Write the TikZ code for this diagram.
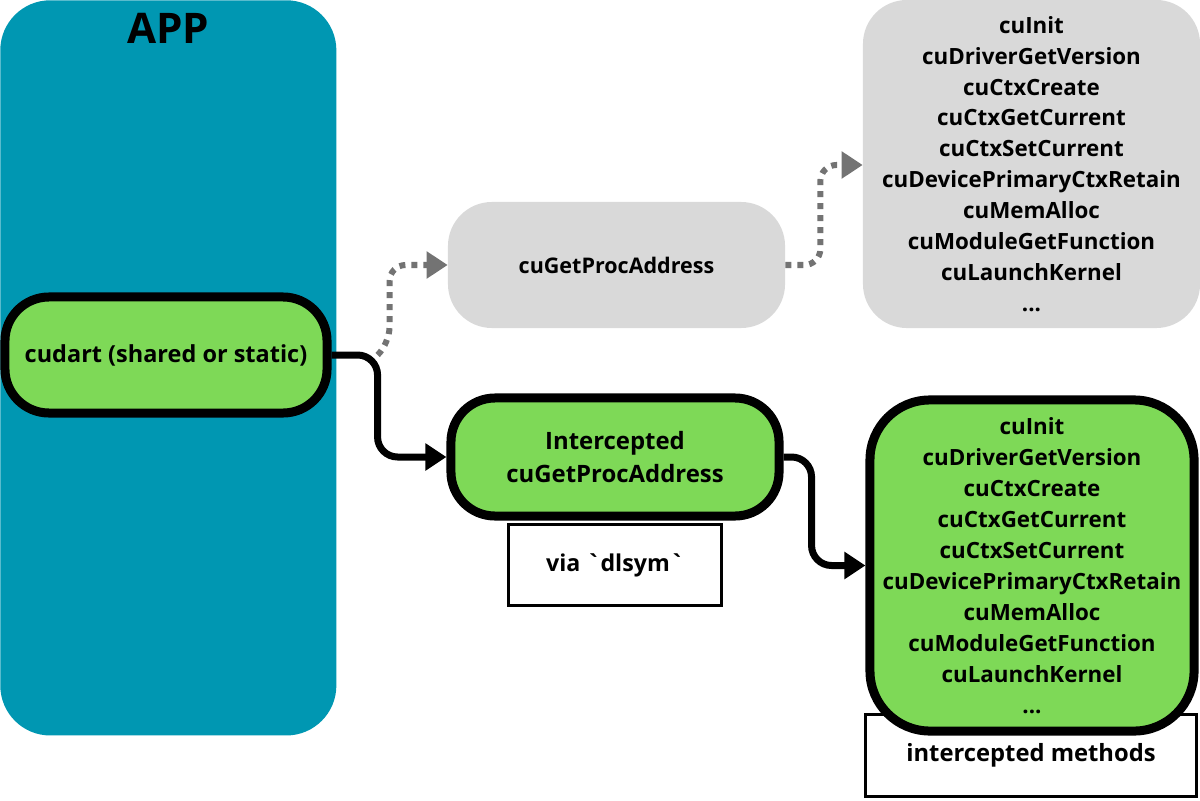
\documentclass[tikz,border=0pt]{standalone}
\usepackage{fontspec}
\setmainfont{Open Sans}[Ligatures=TeXOff]
\usetikzlibrary{positioning,arrows.meta}
\definecolor{appteal}{HTML}{0097B2}
\definecolor{cugreen}{HTML}{7ED957}
\definecolor{cugray}{HTML}{D9D9D9}
\definecolor{dotgray}{HTML}{737373}
\newcommand{\cufuncs}{cuInit\\ cuDriverGetVersion\\ cuCtxCreate\\ cuCtxGetCurrent\\
cuCtxSetCurrent\\ cuDevicePrimaryCtxRetain\\ cuMemAlloc\\ cuModuleGetFunction\\
cuLaunchKernel\\ ...}

\begin{document}
\begin{tikzpicture}[x=0.025cm, y=-0.025cm, font=\bfseries,
  green box/.style={draw=black, line width=0.225cm, fill=cugreen, rounded corners=1.1cm, align=center, inner sep=0pt},
  gray box/.style={fill=cugray, rounded corners=1.1cm, align=center, inner sep=0pt},
  note box/.style={draw=black, line width=0.075cm, fill=white, align=center, inner sep=0pt},
  list text/.style={font=\bfseries\fontsize{15.9}{22}\selectfont},
  call/.style={draw=black, line width=0.175cm, rounded corners=0.5cm, -{Triangle[length=0.525cm, width=0.65cm]}},
  lookup/.style={draw=dotgray, line width=0.15cm, dash pattern=on 0.15cm off 0.15cm, rounded corners=0.4cm, -{Triangle[length=0.525cm, width=0.65cm, fill=dotgray]}}]
\useasboundingbox (0,0) rectangle (1200,800);
% application column
\node (app) [fill=appteal, rounded corners=1.25cm, minimum width=8.4cm, minimum height=18.375cm, anchor=north west, inner sep=0pt] at (0,0) {};
\node (apptitle) [font=\bfseries\fontsize{30}{30}\selectfont, below=0.2cm of app.north] {APP};
\node (cudart) [green box, minimum width=8.05cm, minimum height=2.9cm, font=\bfseries\fontsize{16.7}{20}\selectfont] at (166,355) {cudart (shared or static)};
% real driver path
\node (gproc) [gray box, minimum width=8.425cm, minimum height=3.15cm, font=\bfseries\fontsize{15.3}{18}\selectfont] at (616.5,265) {cuGetProcAddress};
\node (glist) [gray box, list text, minimum width=8.425cm, minimum height=8.2cm] at (1031.5,164) {\cufuncs};
% intercepted path
\node (icpa) [green box, minimum width=8.2cm, minimum height=2.95cm, font=\bfseries\fontsize{17}{23}\selectfont] at (615,457) {Intercepted\\ cuGetProcAddress};
\node (dlsym) [note box, minimum width=5.3cm, minimum height=2.025cm, font=\bfseries\fontsize{16.5}{20}\selectfont, below=0.07cm of icpa] {via `dlsym`};
\node (imethods) [note box, minimum width=8.275cm, minimum height=2.05cm, font=\bfseries\fontsize{16.9}{20}\selectfont] at (1031,755.5) {intercepted methods};
\node (ilist) [green box, list text, rounded corners=1.5cm, minimum width=8.1cm, minimum height=8.275cm] at (1032,565.5) {\cufuncs};
% connectors
\coordinate (split) at ([xshift=1.15cm]cudart.east);
\draw[call] (cudart.east) -- (split) |- (icpa.west);
\draw[lookup] (split) -- ++(12,-12) |- (gproc.west);
\draw[lookup] (gproc.east) -- ++(35,0) |- (glist.west |- 0,165);
\draw[call] (icpa.east) -- ++(28,0) |- (ilist.west);
\end{tikzpicture}
\end{document}
